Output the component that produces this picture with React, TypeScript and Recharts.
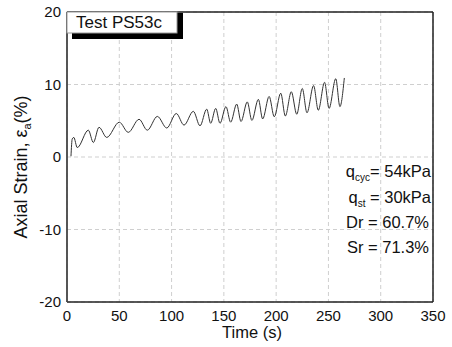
import React from 'react';
import { LineChart, Line, XAxis, YAxis, CartesianGrid } from 'recharts';

const times = [3.8, 5, 6.5, 9.8, 20.4, 25.2, 30.6, 38, 50, 58.6, 68.9, 76.8, 86.4, 95.4, 104.5, 111.9, 120.8, 127.2, 133.6, 137.4, 142.2, 146.3, 152, 156.5, 162.3, 166.4, 172.4, 176.8, 183, 187.1, 193.3, 198.2, 204.4, 208.8, 214.5, 219.7, 225, 229.5, 235.8, 240.3, 246.3, 250.6, 257, 261, 265.2];
const strain = [0.1, 2.5, 2.7, 1.3, 3.7, 2.0, 4.1, 2.7, 4.8, 3.4, 5.2, 3.7, 5.6, 4.0, 6.0, 4.4, 6.3, 4.3, 6.6, 4.65, 6.7, 4.65, 6.95, 4.8, 7.3, 4.9, 7.6, 5.05, 7.95, 5.25, 8.35, 5.55, 8.8, 5.65, 9.0, 5.9, 9.45, 6.1, 9.85, 6.45, 10.3, 6.7, 10.8, 6.95, 10.9];

const xMajor = [0, 50, 100, 150, 200, 250, 300, 350];
const xMinor = [25, 75, 125, 175, 225, 275, 325];
const yMajor = [-20, -10, 0, 10, 20];
const yMinor = [-15, -5, 5, 15];

const titleText = 'Test PS53c';
const xTitle = 'Time (s)';

const data = times.map((t, i) => ({ t, s: strain[i] }));

const FONT = '"Liberation Sans", Arial, sans-serif';
const AX = '#222';

export default function App() {
  return (
    <div style={{ position: 'absolute', left: 0, top: 0, width: 452, height: 347, background: '#fff' }}>
      <LineChart width={452} height={347} data={data} margin={{ top: 12, right: 19, bottom: 15, left: 7 }}>
        <CartesianGrid stroke="#cfcfcf" strokeDasharray="4 3" />
        <XAxis dataKey="t" type="number" domain={[0, 350]} ticks={xMajor} allowDataOverflow
          height={30} tickLine={false} axisLine={{ stroke: AX, strokeWidth: 1.5 }}
          tick={{ fill: '#111', fontSize: 15, fontFamily: FONT }} interval={0} />
        <XAxis xAxisId="bm" dataKey="t" type="number" domain={[0, 350]} ticks={xMajor} mirror tick={false}
          tickSize={5} tickLine={{ stroke: AX, strokeWidth: 1.5 }} axisLine={false} interval={0} />
        <XAxis xAxisId="bn" dataKey="t" type="number" domain={[0, 350]} ticks={xMinor} mirror tick={false}
          tickSize={3} tickLine={{ stroke: AX, strokeWidth: 1.2 }} axisLine={false} interval={0} />
        <XAxis xAxisId="tm" orientation="top" dataKey="t" type="number" domain={[0, 350]} ticks={xMajor} mirror tick={false}
          tickSize={5} tickLine={{ stroke: AX, strokeWidth: 1.5 }} axisLine={{ stroke: AX, strokeWidth: 1.5 }} interval={0} />
        <XAxis xAxisId="tn" orientation="top" dataKey="t" type="number" domain={[0, 350]} ticks={xMinor} mirror tick={false}
          tickSize={3} tickLine={{ stroke: AX, strokeWidth: 1.2 }} axisLine={false} interval={0} />
        <YAxis type="number" domain={[-20, 20]} ticks={yMajor} width={60} tickLine={false} tickSize={4}
          axisLine={{ stroke: '#444', strokeWidth: 1.8 }} tick={{ fill: '#111', fontSize: 15, fontFamily: FONT }} interval={0} />
        <YAxis yAxisId="lm" type="number" domain={[-20, 20]} ticks={yMajor} mirror tick={false}
          tickSize={5} tickLine={{ stroke: AX, strokeWidth: 1.5 }} axisLine={false} interval={0} />
        <YAxis yAxisId="ln" type="number" domain={[-20, 20]} ticks={yMinor} mirror tick={false}
          tickSize={3} tickLine={{ stroke: AX, strokeWidth: 1.2 }} axisLine={false} interval={0} />
        <YAxis yAxisId="rm" orientation="right" type="number" domain={[-20, 20]} ticks={yMajor} mirror tick={false}
          tickSize={5} tickLine={{ stroke: AX, strokeWidth: 1.5 }} axisLine={{ stroke: AX, strokeWidth: 1.5 }} interval={0} />
        <YAxis yAxisId="rn" orientation="right" type="number" domain={[-20, 20]} ticks={yMinor} mirror tick={false}
          tickSize={3} tickLine={{ stroke: AX, strokeWidth: 1.2 }} axisLine={false} interval={0} />
        <Line dataKey="s" type="monotone" stroke="#333" strokeWidth={1} dot={false} isAnimationActive={false} />
      </LineChart>
      <svg width={452} height={347} style={{ position: 'absolute', left: 0, top: 0, pointerEvents: 'none' }}
        fontFamily={FONT}>
        <rect x={72} y={13} width={111} height={26} fill="#000" />
        <rect x={67} y={12} width={110} height={21} fill="#fff" stroke="#999" strokeWidth={1} />
        <text x={76} y={28} fontSize={17} fill="#111">{titleText}</text>
        <text x={252} y={338} fontSize={16.5} fill="#111" textAnchor="middle">{xTitle}</text>
        <text transform="translate(27,167) rotate(-90)" fontSize={18} fill="#111" textAnchor="middle">
          Axial Strain, ε<tspan fontSize={11} dy={4}>a</tspan><tspan dy={-4}>(%)</tspan>
        </text>
        <g fontSize={16.5} fill="#111" textAnchor="end">
          <text x={431} y={177}>q<tspan fontSize={10} dy={4}>cyc</tspan><tspan dy={-4}>= 54kPa</tspan></text>
          <text x={431} y={203}>q<tspan fontSize={10} dy={4}>st</tspan><tspan dy={-4}> = 30kPa</tspan></text>
          <text x={429} y={228}>Dr = 60.7%</text>
          <text x={429} y={253}>Sr = 71.3%</text>
        </g>
      </svg>
    </div>
  );
}
